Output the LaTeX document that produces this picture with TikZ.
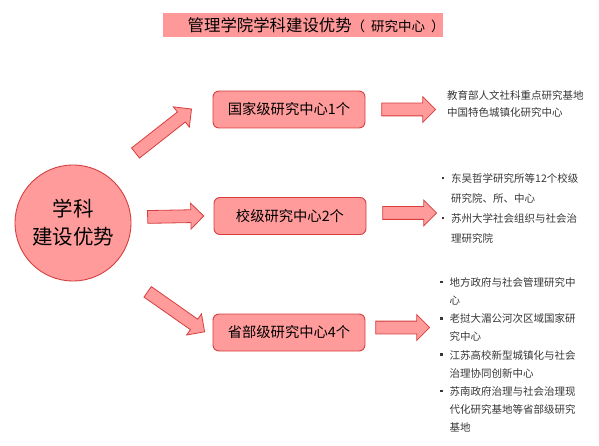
\documentclass[tikz,border=0pt]{standalone}
\usepackage{fontspec}
\setmainfont{Noto Sans CJK SC}
\usetikzlibrary{shapes.arrows, calc}
\definecolor{rosefill}{RGB}{255,155,155}
\definecolor{roseline}{RGB}{214,62,62}
\definecolor{bannerfill}{RGB}{255,153,153}
\definecolor{notegray}{RGB}{55,55,55}

\newcommand{\bul}{\makebox[9.5pt][l]{\raisebox{0.3em}{\rule{2.5pt}{2.5pt}}}}
\newcommand{\ind}{\hspace*{9.5pt}}
\newcommand{\fatarrow}[2]{%
  \path let \p1=($(#2)-(#1)$) in
    node[fatarrow, minimum height={veclen(\x1,\y1)}, rotate={atan2(\y1,\x1)}]
    at ($(#1)!0.5!(#2)$) {};}

\begin{document}
\begin{tikzpicture}[x=1pt, y=-1pt,
  block/.style={draw=roseline, fill=rosefill, line width=0.9pt, rounded corners=6pt,
    minimum width=152pt, minimum height=37pt, inner sep=0pt, font=\fontsize{14.3}{16}\selectfont},
  fatarrow/.style={single arrow, draw=roseline, fill=rosefill, line width=0.8pt,
    inner sep=6pt, single arrow head extend=6.5pt, single arrow tip angle=90},
  note/.style={anchor=north west, inner sep=0pt, align=left, text=notegray}]
  \useasboundingbox (0,0) rectangle (599,446);
  % title
  \node[fill=bannerfill, minimum width=280pt, minimum height=24pt, inner sep=0pt] (banner) at (303,25) {};
  \node[anchor=west, inner sep=0pt, font=\fontsize{16.4}{18}\selectfont] (title) at (187.5,25)
    {管理学院学科建设优势{\fontsize{13.5}{14}\selectfont （\hspace{6pt}研究中心\hspace{6pt}）}};
  % centre
  \node[circle, draw=roseline, fill=rosefill, line width=0.9pt, minimum size=116pt, inner sep=0pt,
    align=center, font=\fontsize{20.5}{28}\selectfont] (core) at (73,223) {学科\\建设优势};
  % levels
  \node[block] (lv1) at (289,109.5) {国家级研究中心1个};
  \node[block] (lv2) at (290,216) {校级研究中心2个};
  \node[block] (lv3) at (289,332.5) {省部级研究中心4个};
  % arrows in
  \coordinate (in1) at (133,155);
  \coordinate (in3) at (145,290);
  \fatarrow{in1}{189,111}
  \fatarrow{$(core.east)+(13,-6)$}{$(lv2.west)+(-13,0)$}
  \fatarrow{in3}{202,330}
  % arrows out
  \fatarrow{$(lv1.east)+(13,0)$}{$(lv1.east)+(67,0)$}
  \fatarrow{$(lv2.east)+(13,-3)$}{$(lv2.east)+(67,-3)$}
  \fatarrow{$(lv3.east)+(7,-5)$}{$(lv3.east)+(61,-5)$}
  % notes
  \node[note, font=\fontsize{10.5}{17}\selectfont] (n1) at (447,90.5)
    {教育部人文社科重点研究基地\\中国特色城镇化研究中心};
  \node[note, font=\fontsize{10.5}{20}\selectfont] (n2) at (441.5,173.5)
    {\bul 东吴哲学研究所等12个校级\\\ind 研究院、所、中心\\
     \bul 苏州大学社会组织与社会治\\\ind 理研究院};
  \node[note, font=\fontsize{10.5}{18.1}\selectfont] (n3) at (440,277.5)
    {\bul 地方政府与社会管理研究中\\\ind 心\\
     \bul 老挝大湄公河次区域国家研\\\ind 究中心\\
     \bul 江苏高校新型城镇化与社会\\\ind 治理协同创新中心\\
     \bul 苏南政府治理与社会治理现\\\ind 代化研究基地等省部级研究\\\ind 基地};
\end{tikzpicture}
\end{document}
